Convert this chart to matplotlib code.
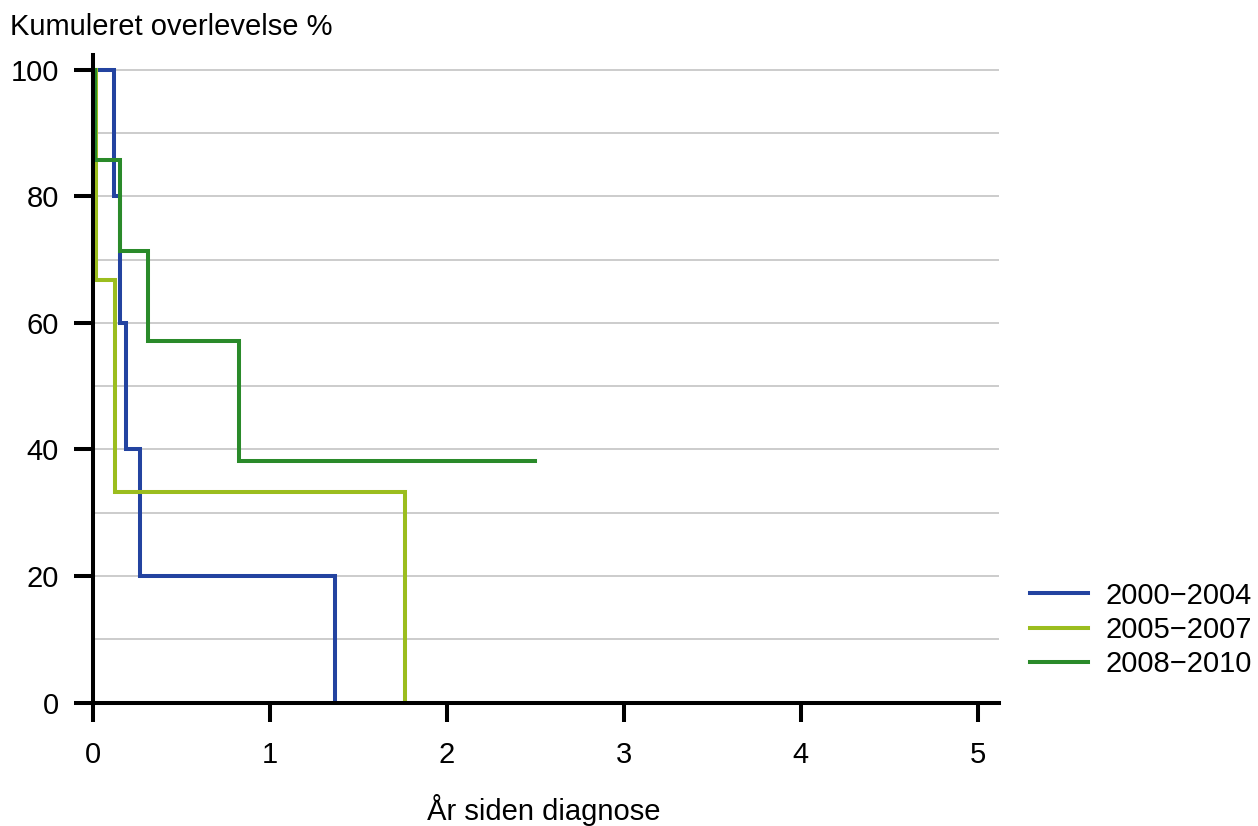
import numpy as np
import matplotlib
matplotlib.use("Agg")
import matplotlib.pyplot as plt

plt.rcParams['font.family'] = ['Liberation Sans', 'DejaVu Sans']

# Kaplan-Meier step curves: time (years) and cumulative survival (%)
labels = ['2000\u22122004', '2005\u22122007', '2008\u22122010']
colors = ['#2343a0', '#9bbd1e', '#2a8a2a']

t_2000 = [0, 0.12, 0.157, 0.19, 0.27, 1.37]
s_2000 = [100, 80, 60, 40, 20, 0]

t_2005 = [0, 0.017, 0.126, 1.767]
s_2005 = [100, 66.7, 33.3, 0]

t_2008 = [0, 0.013, 0.155, 0.31, 0.824, 2.50]
s_2008 = [100, 85.7, 71.4, 57.1, 38.1, 38.1]

series = [(t_2000, s_2000), (t_2005, s_2005), (t_2008, s_2008)]

fs = 21
fig = plt.figure(figsize=(12.58, 8.26), dpi=100)
ax = fig.add_axes([92.7 / 1258, 1 - 702.7 / 826, (999 - 92.7) / 1258, (702.7 - 55) / 826])

for (t, s), lab, c in zip(series, labels, colors):
    ax.step(t, s, where='post', color=c, lw=2.9, label=lab, solid_joinstyle='miter')

ax.set_xlim(0, 5.12)
ax.set_ylim(0, 102.3)
ax.set_xticks(range(0, 6))
ax.set_yticks(range(0, 101, 20))
ax.set_yticks(range(10, 101, 20), minor=True)
ax.grid(True, axis='y', which='both', color='#cccccc', lw=1.4)
ax.set_axisbelow(True)

for side in ['top', 'right']:
    ax.spines[side].set_visible(False)
for side in ['left', 'bottom']:
    ax.spines[side].set_linewidth(2.9)
ax.tick_params(axis='both', which='major', length=13.5, width=2.9, labelsize=fs)
ax.tick_params(axis='y', which='major', pad=11)
ax.tick_params(axis='x', which='major', pad=14)
ax.tick_params(axis='y', which='minor', length=0)

fig.text(10 / 1258, 1 - 27 / 826, 'Kumuleret overlevelse %', fontsize=fs, ha='left', va='center')
fig.text(544 / 1258, 1 - 810 / 826, 'År siden diagnose', fontsize=fs, ha='center', va='center')

ax.legend(loc='center left', bbox_to_anchor=(1030 / 1258, 1 - 630 / 826),
          bbox_transform=fig.transFigure, frameon=False, fontsize=fs,
          borderpad=0, borderaxespad=0, handlelength=2.0, handletextpad=0.6,
          labelspacing=0.22)

fig.savefig('out.png', dpi=100)
